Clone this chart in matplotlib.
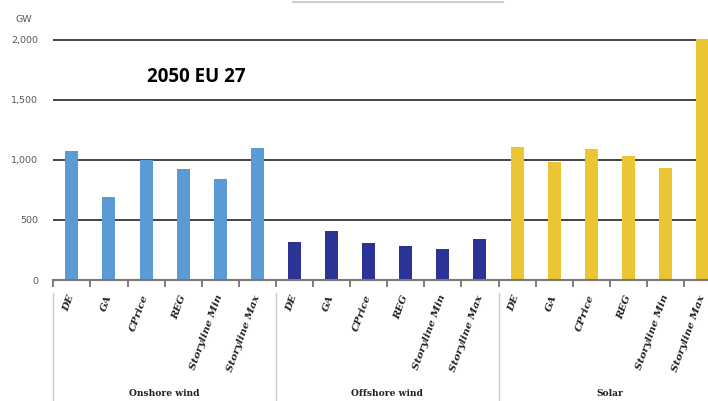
import numpy as np
import matplotlib.pyplot as plt
from matplotlib.transforms import blended_transform_factory

# installed capacity in 2050, EU 27 (GW)
scenarios = ["DE", "GA", "CPrice", "REG", "Storyline Min", "Storyline Max"]
groups = ["Onshore wind", "Offshore wind", "Solar"]
onshore = [1075, 695, 1000, 928, 842, 1097]
offshore = [314, 408, 306, 281, 258, 344]
solar = [1111, 981, 1089, 1036, 931, 2010]
colors = ["#5b9bd5", "#2b3494", "#ebc534"]
yticks = [0, 500, 1000, 1500, 2000]
ytick_labels = ["0", "500", "1,000", "1,500", "2,000"]

W, H = 708, 401
fig = plt.figure(figsize=(W / 100, H / 100), dpi=100)
cat_w = 37.1
x0, y0 = 53.3, 280
n = len(scenarios) * len(groups)
ax = fig.add_axes([x0 / W, (H - y0) / H, n * cat_w / W, 252 / H])
ax.set_xlim(0, n)
ax.set_ylim(0, 2100)

for g, vals in enumerate([onshore, offshore, solar]):
    xs = np.arange(len(vals)) + g * len(scenarios) + 0.5
    ax.bar(xs, vals, width=0.35, color=colors[g], zorder=3)

# horizontal gridlines
for v in yticks[1:]:
    ax.axhline(v, color="#444444", lw=1.4, zorder=1)

for s in ["top", "right", "left"]:
    ax.spines[s].set_visible(False)
ax.spines["bottom"].set_color("#777777")
ax.spines["bottom"].set_linewidth(1.5)
ax.spines["bottom"].set_zorder(4)

ax.set_yticks(yticks)
ax.set_yticklabels(ytick_labels, fontsize=6.8, color="#555555")
ax.tick_params(axis="y", length=0, pad=11)

# tick marks on category boundaries, labels at category centres
ax.set_xticks(np.arange(n + 1))
ax.set_xticklabels([])
ax.tick_params(axis="x", direction="out", length=5, width=1.2, color="#666666")
ax.set_xticks(np.arange(n) + 0.5, minor=True)
ax.set_xticklabels(scenarios * len(groups), minor=True, rotation=70,
                   ha="right", va="center", rotation_mode="anchor",
                   fontsize=7.5, fontfamily="DejaVu Serif", fontweight="bold",
                   fontstyle="italic", color="#222222")
ax.tick_params(axis="x", which="minor", length=0, pad=11)

trans = blended_transform_factory(ax.transData, fig.transFigure)
for g, name in enumerate(groups):
    left = g * len(scenarios)
    ax.plot([left, left], [0, (H - 293) / H], transform=trans, color="#cccccc",
            lw=1, clip_on=False)
    ax.text(left + len(scenarios) / 2, (H - 394) / H, name, transform=trans,
            ha="center", va="center", fontsize=6.6, fontfamily="DejaVu Serif",
            fontweight="bold", color="#222222")

fig.text(15 / W, (H - 20) / H, "GW", fontsize=6.8, color="#555555", va="center")
fig.text(147 / W, (H - 77) / H, "2050 EU 27", fontsize=13.5, fontweight="bold",
         fontfamily="Open Sans", va="center")

# edge of the box above the plot
fig.add_artist(plt.Line2D([293 / W, 503 / W], [(H - 1.5) / H] * 2, color="#d0d0d0",
                          lw=1.5))

fig.savefig("out.png", dpi=100)
